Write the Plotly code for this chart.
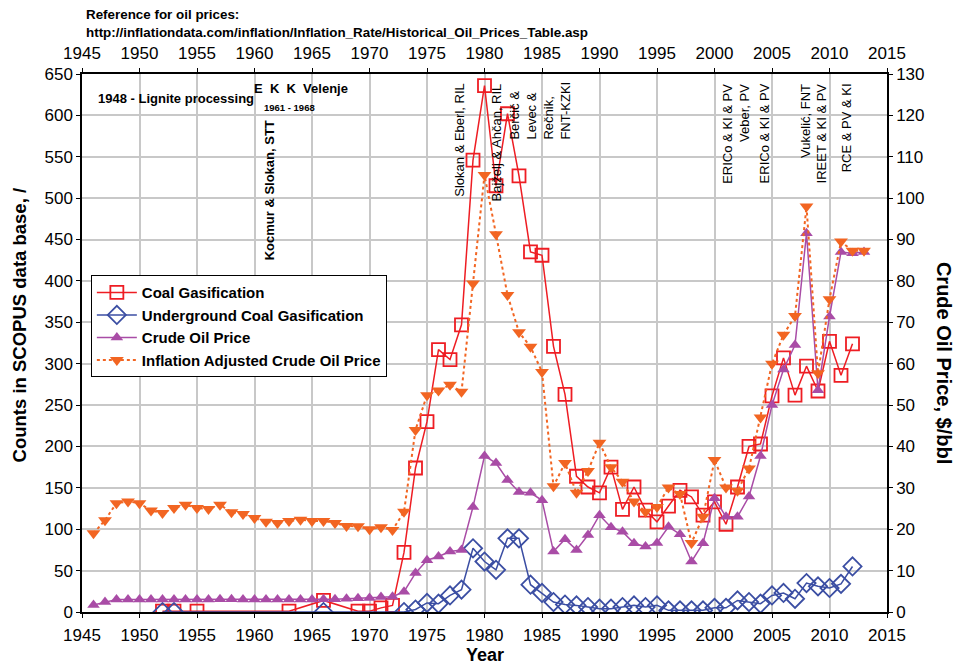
import plotly.graph_objects as go

# ---------------- data ----------------
coal_years = [1952, 1953, 1955, 1963, 1966, 1969, 1970, 1971, 1972,
              1973, 1974, 1975, 1976, 1977, 1978, 1979, 1980, 1981, 1982,
              1983, 1984, 1985, 1986, 1987, 1988, 1989, 1990, 1991, 1992,
              1993, 1994, 1995, 1996, 1997, 1998, 1999, 2000, 2001, 2002,
              2003, 2004, 2005, 2006, 2007, 2008, 2009, 2010, 2011, 2012]
coal_counts = [1, 1, 1, 1, 14, 1, 1, 5, 8,
               72, 174, 230, 317, 305, 347, 546, 636, 515, 602,
               527, 435, 431, 321, 263, 164, 151, 144, 175, 124,
               151, 123, 109, 128, 147, 139, 117, 133, 106, 151,
               200, 203, 261, 307, 262, 297, 267, 327, 286, 324]

ucg_years = [1952, 1953, 1966, 1973,
             1974, 1975, 1976, 1977, 1978, 1979, 1980, 1981, 1982, 1983,
             1984, 1985, 1986, 1987, 1988, 1989, 1990, 1991, 1992, 1993,
             1994, 1995, 1996, 1997, 1998, 1999, 2000, 2001, 2002, 2003,
             2004, 2005, 2006, 2007, 2008, 2009, 2010, 2011, 2012]
ucg_counts = [0, 0, 0, 0,
              3, 11, 10, 20, 27, 77, 61, 51, 89, 89,
              33, 23, 12, 9, 8, 6, 4, 4, 6, 8,
              6, 8, 2, 2, 2, 2, 5, 5, 14, 12,
              10, 20, 23, 16, 35, 31, 29, 34, 55]

price_years = list(range(1946, 2014))
crude_price = [1.7, 2.4, 3.0, 3.0, 3.0, 3.0, 3.0, 3.0, 3.0, 3.0,
               3.0, 3.1, 3.1, 3.0, 3.0, 3.0, 3.0, 3.0, 3.0, 3.0,
               3.1, 3.1, 3.2, 3.3, 3.4, 3.6, 3.7,
               4.9, 9.4, 12.5, 13.4, 14.6, 15.0, 25.4, 37.7, 36.0, 31.9,
               29.0, 28.8, 27.0, 14.6, 17.6, 15.0, 18.6, 23.4, 20.5, 19.4,
               16.6, 15.8, 16.7, 20.6, 18.8, 12.2, 16.6, 27.5, 23.0, 23.0,
               27.9, 37.7, 50.0, 58.6, 64.5, 91.5, 53.6, 71.4, 87.0, 86.7, 87.0]
inflation_adj_price = [19.0, 22.2, 26.3, 26.7, 26.3, 24.5, 23.9, 25.1, 25.9, 25.1,
                       24.9, 25.9, 24.1, 23.7, 22.7, 21.8, 21.5, 22.0, 22.3, 22.0,
                       22.0, 21.5, 20.8, 20.7, 20.0, 20.5, 19.8,
                       24.2, 44.0, 52.4, 53.5, 54.9, 53.2, 79.4, 105.6, 91.3, 76.6,
                       67.6, 64.1, 58.0, 30.4, 36.0, 28.8, 34.1, 40.9, 35.0, 31.5,
                       26.7, 24.2, 25.4, 30.1, 28.5, 16.7, 23.0, 36.7, 30.1, 29.3,
                       34.7, 47.0, 60.0, 67.0, 71.5, 98.0, 57.7, 75.6, 89.5, 87.3, 87.3]

year_ticks = list(range(1945, 2016, 5))

# ---------------- styling ----------------
FONT = "Arial, Liberation Sans, Helvetica, sans-serif"
RED = "#ee1d23"
BLUE = "#3b4ea3"
PURPLE = "#a94ca6"
ORANGE = "#f26522"
GRID = "#c8c8c8"

fig = go.Figure()

fig.add_trace(go.Scatter(
    x=coal_years, y=coal_counts, name="Coal Gasification", mode="lines+markers",
    line=dict(color=RED, width=1.5),
    marker=dict(symbol="square-open", size=13, color=RED, line=dict(width=1.8, color=RED)),
    xaxis="x", yaxis="y"))
fig.add_trace(go.Scatter(
    x=ucg_years, y=ucg_counts, name="Underground Coal Gasification", mode="lines+markers",
    line=dict(color=BLUE, width=1.5),
    marker=dict(symbol="diamond-open", size=14, color=BLUE, line=dict(width=1.8, color=BLUE)),
    xaxis="x", yaxis="y"))
fig.add_trace(go.Scatter(
    x=price_years, y=crude_price, name="Crude Oil Price", mode="lines+markers",
    line=dict(color=PURPLE, width=1.5),
    marker=dict(symbol="triangle-up", size=11, color=PURPLE),
    xaxis="x", yaxis="y2"))
fig.add_trace(go.Scatter(
    x=price_years, y=inflation_adj_price, name="Inflation Adjusted Crude Oil Price",
    mode="lines+markers",
    line=dict(color=ORANGE, width=2, dash="dot"),
    marker=dict(symbol="triangle-down", size=12, color=ORANGE),
    xaxis="x", yaxis="y2"))
# invisible trace to carry the top year axis
fig.add_trace(go.Scatter(
    x=[year_ticks[0], year_ticks[-1]], y=[None, None], mode="markers",
    showlegend=False, hoverinfo="skip", xaxis="x2", yaxis="y"))

axis_common = dict(showline=True, linecolor="black", linewidth=1.5,
                   tickfont=dict(family=FONT, size=17, color="black"),
                   ticks="outside", ticklen=4, tickcolor="black", zeroline=False)

# page body has an 8px margin, so the figure is sized/margined to compensate
fig.update_layout(
    width=958, height=657,
    margin=dict(l=74, r=79, t=66, b=53, autoexpand=False),
    paper_bgcolor="white", plot_bgcolor="white",
    font=dict(family=FONT, color="black"),
    xaxis=dict(range=[1945, 2015], tickvals=year_ticks, showgrid=True,
               gridcolor=GRID, gridwidth=1.5, ticklabelstandoff=3, **axis_common),
    xaxis2=dict(range=[1945, 2015], tickvals=year_ticks, overlaying="x", side="top",
                showgrid=False, anchor="y", ticklabelstandoff=2, **axis_common),
    yaxis=dict(range=[0, 650], dtick=50, showgrid=True, gridcolor=GRID, gridwidth=1.5,
               **axis_common),
    yaxis2=dict(range=[0, 130], dtick=10, overlaying="y", side="right", showgrid=False,
                **axis_common),
    legend=dict(x=0.011, y=0.626, xanchor="left", yanchor="top",
                bgcolor="white", bordercolor="black", borderwidth=1,
                font=dict(family=FONT, size=15, color="black", weight="bold"),
                tracegroupgap=0, itemwidth=40),
    showlegend=True,
)

ann = []
# axis titles
ann.append(dict(xref="paper", yref="paper", x=0.5, y=-0.079, xanchor="center", yanchor="middle",
                text="<b>Year</b>", showarrow=False, font=dict(family=FONT, size=18)))
ann.append(dict(xref="paper", yref="paper", x=-0.0775, y=0.532, xanchor="center", yanchor="middle",
                textangle=-90, text="<b>Counts in SCOPUS data base, /</b>", showarrow=False,
                font=dict(family=FONT, size=18.5)))
ann.append(dict(xref="paper", yref="paper", x=1.0708, y=0.463, xanchor="center", yanchor="middle",
                textangle=90, text="<b>Crude Oil Price, $/bbl</b>", showarrow=False,
                font=dict(family=FONT, size=20)))
# header reference
ann.append(dict(xref="paper", yref="paper", x=0.0025, y=1.1115, xanchor="left", yanchor="middle",
                text="<b>Reference for oil prices:</b>", showarrow=False,
                font=dict(family=FONT, size=13.4)))
ann.append(dict(xref="paper", yref="paper", x=0.0025, y=1.078, xanchor="left", yanchor="middle",
                text="<b>http://inflationdata.com/inflation/Inflation_Rate/Historical_Oil_Prices_Table.asp</b>",
                showarrow=False, font=dict(family=FONT, size=13.4)))
# horizontal labels inside the plot
ann.append(dict(x=1946.25, y=620, xanchor="left", yanchor="middle",
                text="<b>1948 - Lignite processing</b>", showarrow=False,
                font=dict(family=FONT, size=13)))
ann.append(dict(x=1964.0, y=632, xanchor="center", yanchor="middle",
                text="<b>E  K  K  Velenje</b>", showarrow=False,
                font=dict(family=FONT, size=13)))
ann.append(dict(x=1963.0, y=609, xanchor="center", yanchor="middle",
                text="<b>1961 - 1968</b>", showarrow=False,
                font=dict(family=FONT, size=9.5)))
# rotated labels
ann.append(dict(x=1961.3, y=423, xanchor="center", yanchor="bottom", textangle=-90,
                text="<b>Kocmur & Slokan, STT</b>", showarrow=False,
                font=dict(family=FONT, size=13)))
rot_top = [
    (1977.85, "Slokan & Eberl, RIL", "left"),
    (1981.0, "Bajželj & Ahčan, RIL", "left"),
    (2001.9, "ERICo & KI & PV<br>Veber, PV", "right"),
    (2004.3, "ERICo & KI & PV", "right"),
    (2008.65, "Vukelić, FNT<br>IREET & KI & PV", "right"),
    (2011.55, "RCE & PV & KI", "right"),
]
for xv, txt, al in rot_top:
    ann.append(dict(x=xv, y=641, xanchor="center", yanchor="top", textangle=-90,
                    text=txt, align=al, showarrow=False,
                    font=dict(family=FONT, size=13)))
ann.append(dict(x=1984.8, y=568, xanchor="center", yanchor="bottom", textangle=-90,
                text="Berčič &<br>Levec &<br>Rečnik,<br>FNT-KZKI", align="left",
                showarrow=False, font=dict(family=FONT, size=13)))

for a in ann:
    a.setdefault("xref", "x")
    a.setdefault("yref", "y")
fig.update_layout(annotations=ann)

fig.write_html("out.html")
